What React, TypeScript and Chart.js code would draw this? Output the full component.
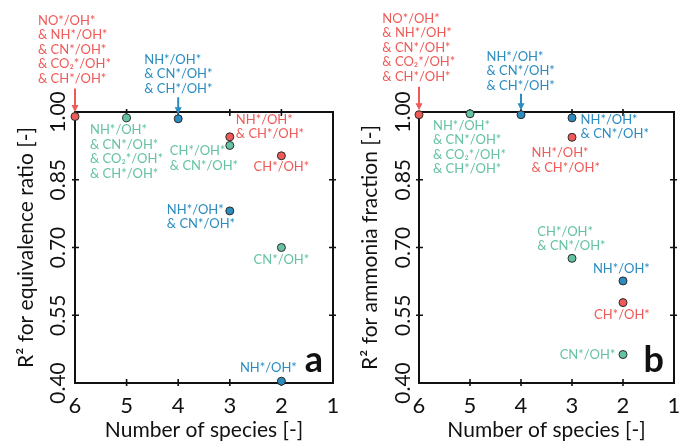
import React, { useEffect, useRef } from 'react';
import { Chart, registerables } from 'chart.js';
Chart.register(...registerables);

// ---------- data ----------
const xTicks = [6, 5, 4, 3, 2, 1];
const yTicks = [0.4, 0.55, 0.7, 0.85, 1.0];

// panel a : R² for equivalence ratio
const aRedX = [6, 3, 2];
const aRedY = [0.99, 0.945, 0.903];
const aTealX = [5, 3, 2];
const aTealY = [0.987, 0.926, 0.7];
const aBlueX = [4, 3, 2];
const aBlueY = [0.985, 0.781, 0.404];

// panel b : R² for ammonia fraction
const bRedX = [6, 3, 2];
const bRedY = [0.994, 0.944, 0.578];
const bTealX = [5, 3, 2];
const bTealY = [0.996, 0.676, 0.463];
const bBlueX = [4, 3, 2];
const bBlueY = [0.994, 0.987, 0.626];

const set5 = ['NO*/OH*', '& NH*/OH*', '& CN*/OH*', '& CO₂*/OH*', '& CH*/OH*'];
const set4 = ['NH*/OH*', '& CN*/OH*', '& CO₂*/OH*', '& CH*/OH*'];
const set3 = ['NH*/OH*', '& CN*/OH*', '& CH*/OH*'];

const aRedLabels = [set5, ['NH*/OH*', '& CH*/OH*'], ['CH*/OH*']];
const aTealLabels = [set4, ['CH*/OH*', '& CN*/OH*'], ['CN*/OH*']];
const aBlueLabels = [set3, ['NH*/OH*', '& CN*/OH*'], ['NH*/OH*']];

const bRedLabels = [set5, ['NH*/OH*', '& CH*/OH*'], ['CH*/OH*']];
const bTealLabels = [set4, ['CH*/OH*', '& CN*/OH*'], ['CN*/OH*']];
const bBlueLabels = [set3, ['NH*/OH*', '& CN*/OH*'], ['NH*/OH*']];

const xTitle = 'Number of species [-]';
const aYTitle = 'R² for equivalence ratio [-]';
const bYTitle = 'R² for ammonia fraction [-]';

// ---------- styles / layout ----------
const RED = '#ee5a57';
const TEAL = '#66c2a5';
const BLUE = '#2b8cc0';
const INK = '#111111';
const FONT = 'Lato, "DejaVu Sans", sans-serif';

type Pos = { dx: number; dy: number; align: CanvasTextAlign; arrow?: number };

const aRedPos: Pos[] = [
  { dx: -37, dy: -96, align: 'left', arrow: -28 },
  { dx: 6, dy: -17.5, align: 'left' },
  { dx: 0, dy: 11, align: 'center' },
];
const aTealPos: Pos[] = [
  { dx: -36.6, dy: 12.4, align: 'left' },
  { dx: -60, dy: 5.6, align: 'left' },
  { dx: 0, dy: 12, align: 'center' },
];
const aBluePos: Pos[] = [
  { dx: -34, dy: -59, align: 'left', arrow: -21.5 },
  { dx: -63, dy: -1.6, align: 'left' },
  { dx: -13, dy: -13, align: 'center' },
];
const bRedPos: Pos[] = [
  { dx: -36.7, dy: -96, align: 'left', arrow: -28 },
  { dx: -40.4, dy: 15.7, align: 'left' },
  { dx: -1, dy: 12, align: 'center' },
];
const bTealPos: Pos[] = [
  { dx: -37, dy: 12, align: 'left' },
  { dx: -34.7, dy: -27, align: 'left' },
  { dx: -7.6, dy: 0, align: 'right' },
];
const bBluePos: Pos[] = [
  { dx: -34.5, dy: -58.3, align: 'left', arrow: -21 },
  { dx: 8.6, dy: 1.8, align: 'left' },
  { dx: -1.6, dy: -12, align: 'center' },
];

type Series = { xs: number[]; ys: number[]; color: string; labels: string[][]; pos: Pos[] };

type PanelCfg = {
  series: Series[];
  yTitle: string;
  letter: string;
  padding: { left: number; right: number; top: number; bottom: number };
  yTitleX: number;
  yTickX: number;
};

const panelA: PanelCfg = {
  series: [
    { xs: aRedX, ys: aRedY, color: RED, labels: aRedLabels, pos: aRedPos },
    { xs: aTealX, ys: aTealY, color: TEAL, labels: aTealLabels, pos: aTealPos },
    { xs: aBlueX, ys: aBlueY, color: BLUE, labels: aBlueLabels, pos: aBluePos },
  ],
  yTitle: aYTitle,
  letter: 'a',
  padding: { left: 75, right: 7, top: 112, bottom: 59 },
  yTitleX: 33,
  yTickX: 65,
};

const panelB: PanelCfg = {
  series: [
    { xs: bRedX, ys: bRedY, color: RED, labels: bRedLabels, pos: bRedPos },
    { xs: bTealX, ys: bTealY, color: TEAL, labels: bTealLabels, pos: bTealPos },
    { xs: bBlueX, ys: bBlueY, color: BLUE, labels: bBlueLabels, pos: bBluePos },
  ],
  yTitle: bYTitle,
  letter: 'b',
  padding: { left: 79, right: 1.5, top: 112, bottom: 59 },
  yTitleX: 37,
  yTickX: 70,
};

const POINT_R = 4;

function makeDecor(cfg: PanelCfg) {
  return {
    id: 'decor' + cfg.letter,
    beforeDatasetsDraw(chart: any) {
      const { ctx, chartArea: a, scales } = chart;
      const xs = scales.x;
      const ys = scales.y;
      ctx.save();
      ctx.strokeStyle = INK;
      ctx.lineWidth = 2;
      ctx.strokeRect(a.left, a.top, a.right - a.left, a.bottom - a.top);
      ctx.lineWidth = 1.6;
      ctx.beginPath();
      xs.ticks.forEach((t: any) => {
        const px = xs.getPixelForValue(t.value);
        if (Math.abs(px - a.left) < 1 || Math.abs(px - a.right) < 1) return;
        ctx.moveTo(px, a.bottom - 4);
        ctx.lineTo(px, a.bottom + 3);
        ctx.moveTo(px, a.top - 3);
        ctx.lineTo(px, a.top + 4);
      });
      ys.ticks.forEach((t: any) => {
        const py = ys.getPixelForValue(t.value);
        if (Math.abs(py - a.top) < 1 || Math.abs(py - a.bottom) < 1) return;
        ctx.moveTo(a.left - 3, py);
        ctx.lineTo(a.left + 4, py);
        ctx.moveTo(a.right - 4, py);
        ctx.lineTo(a.right + 3, py);
      });
      ctx.stroke();
      ctx.restore();
    },
    afterDraw(chart: any) {
      const { ctx, chartArea: a, scales } = chart;
      const xs = scales.x;
      const ys = scales.y;
      ctx.save();
      // x tick labels
      ctx.fillStyle = INK;
      ctx.font = `22px ${FONT}`;
      ctx.textAlign = 'center';
      ctx.textBaseline = 'alphabetic';
      xs.ticks.forEach((t: any) => {
        ctx.fillText(String(t.value), xs.getPixelForValue(t.value), 413);
      });
      // x title
      ctx.font = `21px ${FONT}`;
      ctx.fillText(xTitle, (a.left + a.right) / 2, 437);
      // y tick labels (rotated)
      ys.ticks.forEach((t: any) => {
        const py = ys.getPixelForValue(t.value);
        ctx.save();
        ctx.translate(cfg.yTickX, py);
        ctx.rotate(-Math.PI / 2);
        ctx.font = `21px ${FONT}`;
        ctx.textAlign = 'center';
        ctx.textBaseline = 'alphabetic';
        ctx.fillText(Number(t.value).toFixed(2), 0, 0);
        ctx.restore();
      });
      // y title
      ctx.save();
      ctx.translate(cfg.yTitleX, (a.top + a.bottom) / 2);
      ctx.rotate(-Math.PI / 2);
      ctx.font = `21px ${FONT}`;
      ctx.textAlign = 'center';
      ctx.textBaseline = 'alphabetic';
      ctx.fillText(cfg.yTitle, 0, 0);
      ctx.restore();
      // annotations
      ctx.font = `13px ${FONT}`;
      ctx.textBaseline = 'middle';
      cfg.series.forEach((s) => {
        s.xs.forEach((xv, i) => {
          const px = xs.getPixelForValue(xv);
          const py = ys.getPixelForValue(s.ys[i]);
          const p = s.pos[i];
          ctx.fillStyle = s.color;
          ctx.textAlign = p.align;
          s.labels[i].forEach((line, k) => {
            ctx.fillText(line, px + p.dx, py + p.dy + k * 14.5);
          });
          if (p.arrow !== undefined) {
            const y0 = py + p.arrow;
            const y1 = py - POINT_R - 0.5;
            ctx.strokeStyle = s.color;
            ctx.lineWidth = 2;
            ctx.beginPath();
            ctx.moveTo(px, y0);
            ctx.lineTo(px, y1 - 5);
            ctx.stroke();
            ctx.beginPath();
            ctx.moveTo(px - 3.5, y1 - 7);
            ctx.lineTo(px + 3.5, y1 - 7);
            ctx.lineTo(px, y1);
            ctx.closePath();
            ctx.fill();
          }
        });
      });
      // panel letter
      ctx.fillStyle = INK;
      ctx.font = `bold 36px ${FONT}`;
      ctx.textAlign = 'right';
      ctx.textBaseline = 'alphabetic';
      ctx.fillText(cfg.letter, a.right - 10, a.bottom - 11);
      ctx.restore();
    },
  };
}

function Panel({ cfg, width }: { cfg: PanelCfg; width: number }) {
  const ref = useRef<HTMLCanvasElement | null>(null);
  useEffect(() => {
    if (!ref.current) return;
    const chart = new Chart(ref.current, {
      type: 'scatter',
      data: {
        datasets: cfg.series.map((s) => ({
          data: s.xs.map((x, i) => ({ x, y: s.ys[i] })),
          backgroundColor: s.color,
          borderColor: '#2a2a2a',
          borderWidth: 1,
          pointRadius: POINT_R,
          pointHoverRadius: POINT_R,
          clip: false as any,
        })),
      },
      options: {
        animation: false,
        responsive: false,
        events: [],
        layout: { padding: cfg.padding },
        plugins: { legend: { display: false }, tooltip: { enabled: false } },
        scales: {
          x: {
            type: 'linear',
            min: 1,
            max: 6,
            reverse: true,
            display: false,
            ticks: { display: false },
            afterBuildTicks: (s: any) => {
              s.ticks = xTicks.map((v) => ({ value: v }));
            },
          },
          y: {
            type: 'linear',
            min: 0.4,
            max: 1.0,
            display: false,
            ticks: { display: false },
            afterBuildTicks: (s: any) => {
              s.ticks = yTicks.map((v) => ({ value: v }));
            },
          },
        },
      },
      plugins: [makeDecor(cfg)],
    });
    return () => chart.destroy();
  }, [cfg]);
  return <canvas ref={ref} width={width} height={442} style={{ display: 'block', width, height: 442 }} />;
}

export default function App() {
  return (
    <div style={{ position: 'absolute', left: 0, top: 0, width: 679, height: 442, display: 'flex', background: '#fff' }}>
      <Panel cfg={panelA} width={340} />
      <Panel cfg={panelB} width={339} />
    </div>
  );
}
